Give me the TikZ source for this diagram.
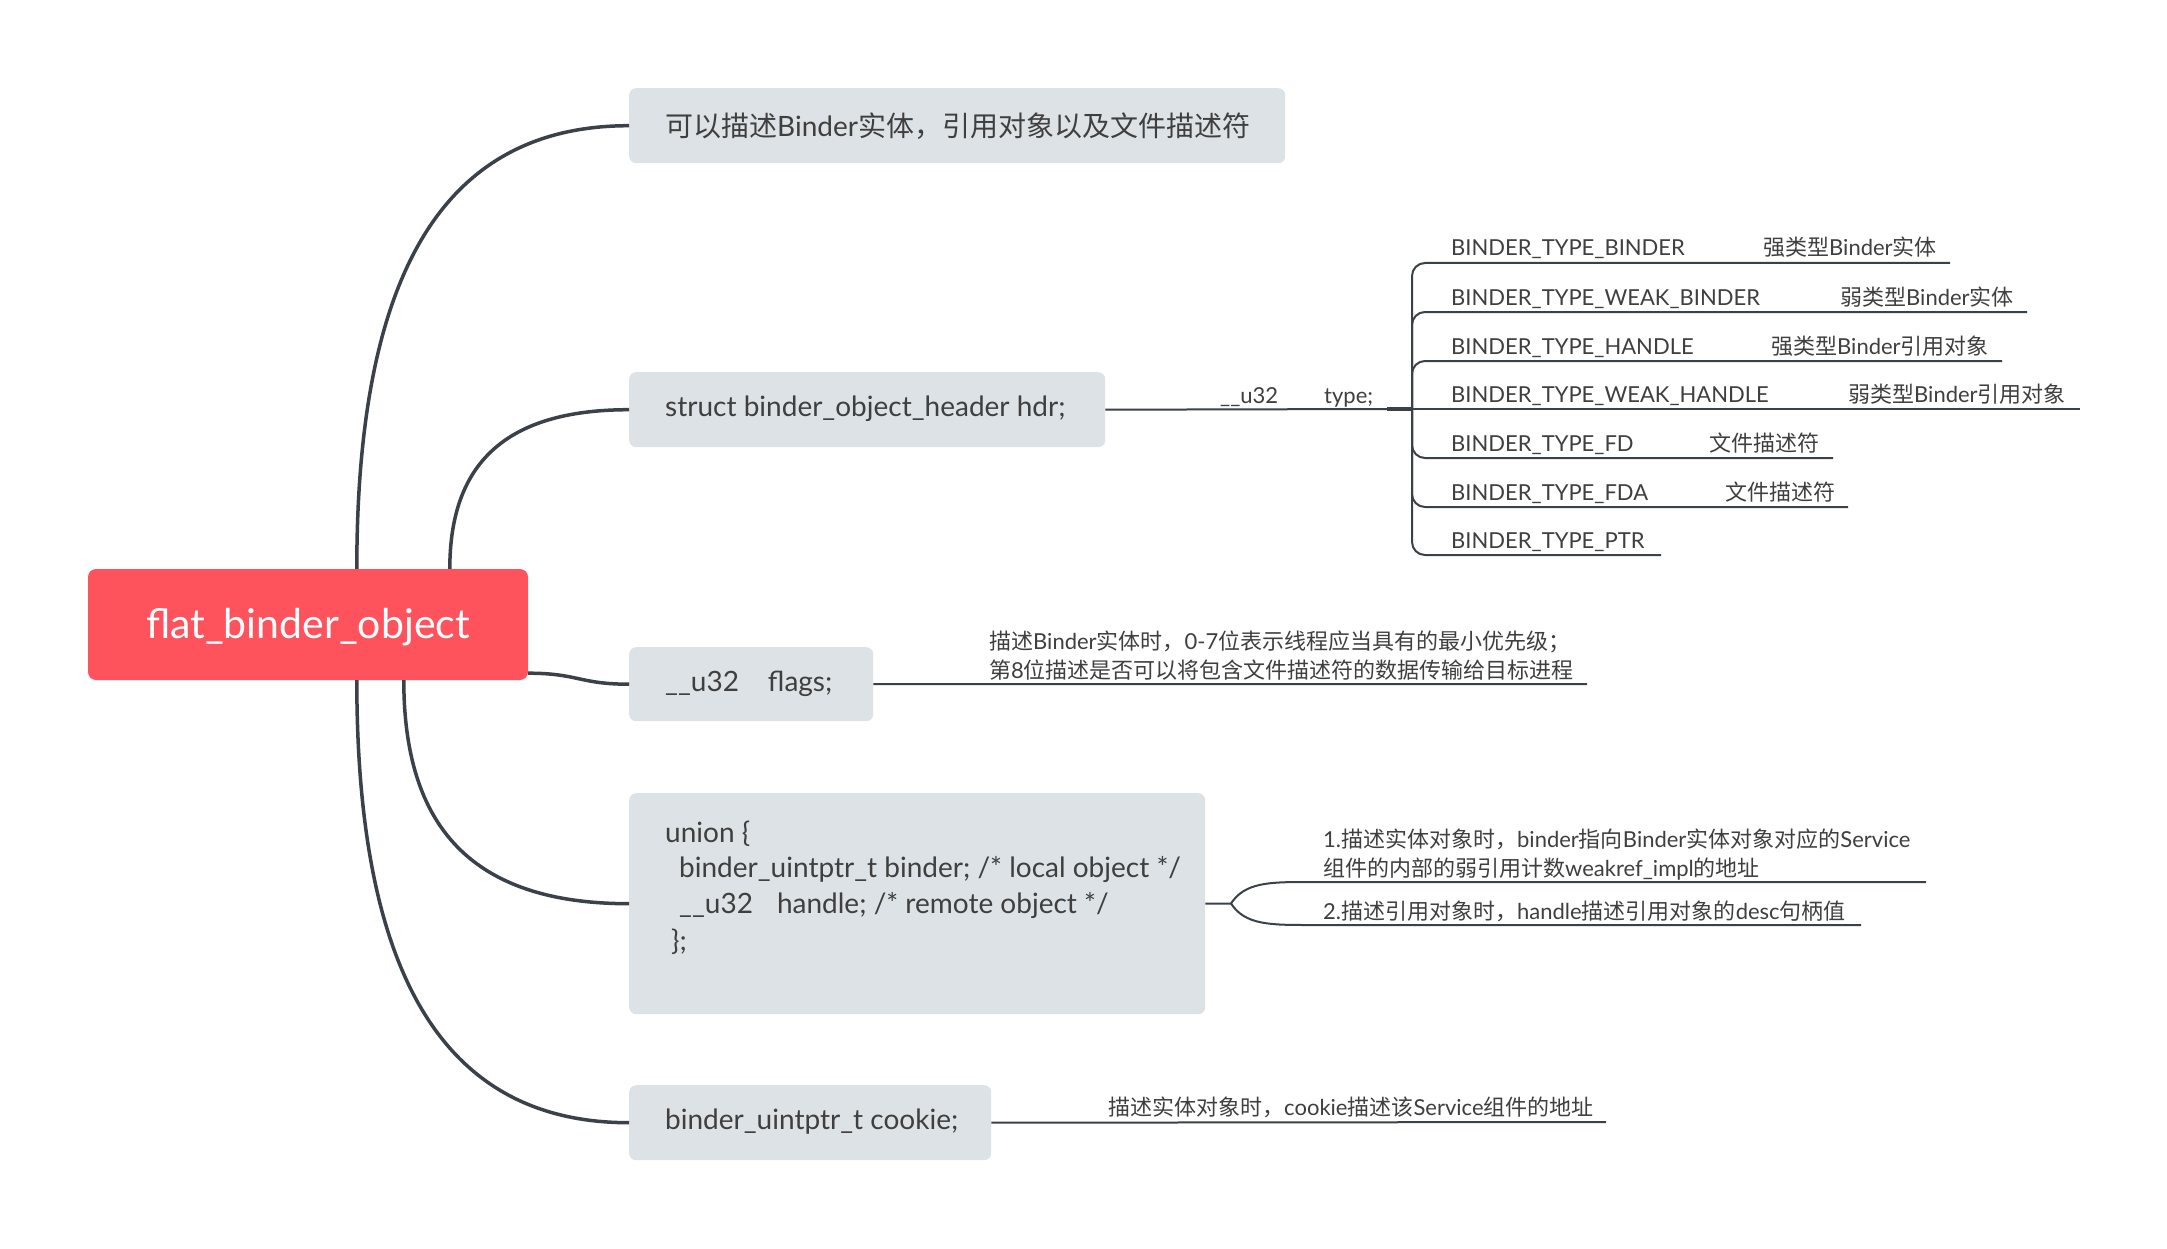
\documentclass[tikz,border=0pt]{standalone}
\usepackage{fontspec}
\setmainfont{Lato}
\newfontfamily\cjkf{Noto Sans CJK SC}
\newcommand\cj[1]{{\cjkf #1}}
\usetikzlibrary{calc}
\definecolor{boxc}{HTML}{DCE2E5}
\definecolor{rootc}{HTML}{FE535D}
\definecolor{linec}{HTML}{3B4149}
\definecolor{txtc}{HTML}{3F3F3F}
\begin{document}
\begin{tikzpicture}[x=1pt,y=-1pt,
  box/.style={fill=boxc, rounded corners=7pt, inner sep=0pt, anchor=north west},
  rootbox/.style={fill=rootc, rounded corners=8pt, inner sep=0pt, text=white,
     font=\fontsize{41}{48}\selectfont, minimum width=440pt, minimum height=111pt},
  btxt/.style={anchor=west, inner sep=0pt, text=txtc, font=\fontsize{28}{34}\selectfont},
  ltxt/.style={anchor=base west, inner sep=0pt, text=txtc, font=\fontsize{28}{34}\selectfont},
  stxt/.style={anchor=base west, inner sep=0pt, text=txtc, font=\fontsize{22}{26}\selectfont},
  mainline/.style={draw=linec, line width=3.5pt},
  subline/.style={draw=linec, line width=2pt},
  thickline/.style={draw=linec, line width=4.5pt}
]
\fill[white] (0,0) rectangle (2167,1249);
\useasboundingbox (0,0) rectangle (2167,1249);

% root
\node[rootbox] (root) at (308,624.5) {\raisebox{-14pt}[0pt][0pt]{flat\_binder\_object}};

% first-level boxes
\node[box, minimum width=656pt, minimum height=75pt] (b1) at (629,88) {};
\node[btxt] (t1) at (665,126) {\cj{可以描述}Binder\cj{实体，引用对象以及文件描述符}};

\node[box, minimum width=476pt, minimum height=75pt] (b2) at (629,372) {};
\node[btxt] (t2) at (665,409) {struct binder\_object\_header hdr;};

\node[box, minimum width=244pt, minimum height=74pt] (b3) at (629,647) {};
\node[btxt] (t3) at (665,684) {\_\_u32\hspace{29pt}flags;};

\node[box, minimum width=576pt, minimum height=221pt] (b4) at (629,793) {};
\node[ltxt] (u1) at (665,842) {union \{};
\node[ltxt] (u2) at (679,877) {binder\_uintptr\_t binder; /* local object */};
\node[ltxt] (u3) at (679,913) {\_\_u32\hspace{24pt}handle; /* remote object */};
\node[ltxt] (u4) at (671,950) {\};};

\node[box, minimum width=362pt, minimum height=75pt] (b5) at (629,1085) {};
\node[btxt] (t5) at (665,1122) {binder\_uintptr\_t cookie;};

% connector start points on root
\path (root.north west) ++(269,0) coordinate (s1);
\path (root.north west) ++(362,0) coordinate (s2);
\path (root.south east) ++(0,-7) coordinate (s3);
\path (root.south west) ++(316,0) coordinate (s4);
\path (root.south west) ++(269,0) coordinate (s5);

\draw[mainline] (s1) .. controls +(0,-288) and +(-190,0) .. (b1.west);
\draw[mainline] (s2) .. controls +(0,-104) and +(-125,0) .. (b2.west);
\draw[mainline] (s3) .. controls +(50,0) and +(-50,0) .. (b3.west);
\draw[mainline] (s4) .. controls +(0,146) and +(-158,0) .. (b4.west);
\draw[mainline] (s5) .. controls +(0,287) and +(-190,0) .. (b5.west);

% header -> type
\node[stxt] (ty) at (1220,403) {\_\_u32\hspace{46pt}type;};
\coordinate (j) at (1387,409);
\coordinate (k) at (1412,409);
\draw[subline] (b2.east) -- (j);
\draw[thickline] (j) -- (k);

% items
\node[stxt] (n1) at (1451,256) {BINDER\_TYPE\_BINDER};
\node[stxt] (d1) at (1763,256) {\cj{强类型}Binder\cj{实体}};
\node[stxt] (n2) at (1451,305) {BINDER\_TYPE\_WEAK\_BINDER};
\node[stxt] (d2) at (1840,305) {\cj{弱类型}Binder\cj{实体}};
\node[stxt] (n3) at (1451,354) {BINDER\_TYPE\_HANDLE};
\node[stxt] (d3) at (1771,354) {\cj{强类型}Binder\cj{引用对象}};
\node[stxt] (n4) at (1451,402) {BINDER\_TYPE\_WEAK\_HANDLE};
\node[stxt] (d4) at (1848,402) {\cj{弱类型}Binder\cj{引用对象}};
\node[stxt] (n5) at (1451,451) {BINDER\_TYPE\_FD};
\node[stxt] (d5) at (1709,451) {\cj{文件描述符}};
\node[stxt] (n6) at (1451,500) {BINDER\_TYPE\_FDA};
\node[stxt] (d6) at (1725,500) {\cj{文件描述符}};
\node[stxt] (n7) at (1451,548) {BINDER\_TYPE\_PTR};

\coordinate (e1) at (1950,263);
\coordinate (e2) at (2027,312);
\coordinate (e3) at (2002,361);
\coordinate (e4) at (2080,409);
\coordinate (e5) at (1833,458);
\coordinate (e6) at (1848,507);
\coordinate (e7) at (1661,555);
\foreach \e in {e1,e2,e3,e5,e6,e7}
  \draw[subline, rounded corners=13pt] (k) |- (\e);
\draw[subline] (k) -- (e4);

% flags note
\node[stxt] (f1) at (989,649) {\cj{描述}Binder\cj{实体时，}0-7\cj{位表示线程应当具有的最小优先级；}};
\node[stxt] (f2) at (989,678) {\cj{第}8\cj{位描述是否可以将包含文件描述符的数据传输给目标进程}};
\coordinate (fe) at (1587,684);
\draw[subline] (b3.east) -- (fe);

% union notes
\coordinate (fk) at (1231,903.5);
\node[stxt] (g1) at (1323,847) {1.\cj{描述实体对象时，}binder\cj{指向}Binder\cj{实体对象对应的}Service};
\node[stxt] (g2) at (1323,876) {\cj{组件的内部的弱引用计数}weakref\_impl\cj{的地址}};
\node[stxt] (g3) at (1323,919) {2.\cj{描述引用对象时，}handle\cj{描述引用对象的}desc\cj{句柄值}};
\coordinate (ga) at (1310,882);
\coordinate (gb) at (1310,925);
\coordinate (gae) at (1926,882);
\coordinate (gbe) at (1861,925);
\draw[subline] (b4.east) -- (fk);
\draw[subline] (fk) .. controls (1245,882) and (1270,882) .. (ga) -- (gae);
\draw[subline] (fk) .. controls (1245,925) and (1270,925) .. (gb) -- (gbe);

% cookie note
\node[stxt] (c1) at (1108,1115) {\cj{描述实体对象时，}cookie\cj{描述该}Service\cj{组件的地址}};
\coordinate (ce) at (1606,1122);
\draw[subline] (b5.east) -- (ce);
\end{tikzpicture}
\end{document}
